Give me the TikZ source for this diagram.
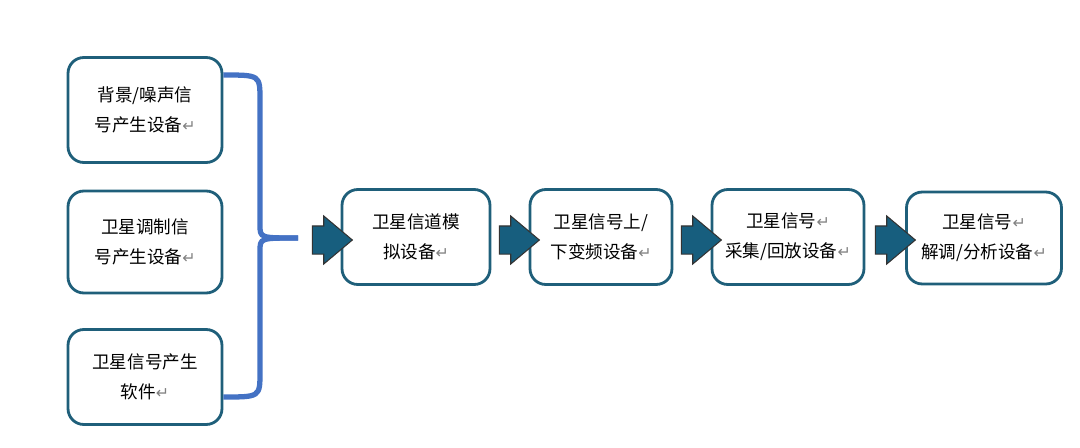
\documentclass[tikz,border=0pt]{standalone}
\usepackage{fontspec}
\setmainfont{Noto Sans CJK SC}
\newfontfamily\symfont{DejaVu Sans}
\usetikzlibrary{shapes.arrows}
\definecolor{boxline}{HTML}{1F5F7A}
\definecolor{arrowfill}{HTML}{175E7E}
\definecolor{bracecol}{HTML}{4472C4}
\newcommand{\ret}{{\symfont\color{gray}\small ↵}}
\tikzset{
% device boxes and block arrows
device box/.style={draw=boxline,line width=1.6pt,rounded corners=9pt,align=center,font=\fontsize{10}{17}\selectfont,inner sep=0pt},
block arrow/.style={single arrow,draw=black!80,fill=arrowfill,line width=0.6pt,minimum height=0.8cm,inner xsep=0pt,inner ysep=0.27cm,single arrow head extend=0.2cm,single arrow tip angle=80}
}
\begin{document}
\begin{tikzpicture}[x=0.02cm,y=-0.02cm]
        \useasboundingbox (0,0) rectangle (1080,447);
        % source boxes
        \node(noise)[device box,minimum width=3.08cm,minimum height=2.1cm] at (145,110) {背景/噪声信\\号产生设备\ret};
        \node(mod)[device box,minimum width=3.08cm,minimum height=2.04cm] at (145,242) {卫星调制信\\号产生设备\ret};
        \node(soft)[device box,minimum width=3.08cm,minimum height=1.9cm] at (145,377) {卫星信号产生\\软件\ret};
        % chain
        \node(chan)[device box,minimum width=2.96cm,minimum height=1.9cm] at (416,237) {卫星信道模\\拟设备\ret};
        \node(conv)[device box,minimum width=2.84cm,minimum height=1.9cm] at (601,237) {卫星信号上/\\下变频设备\ret};
        \node(rec)[device box,minimum width=3.04cm,minimum height=1.9cm] at (788,237) {卫星信号\ret\\采集/回放设备\ret};
        \node(dem)[device box,minimum width=3.1cm,minimum height=1.84cm] at (984,238) {卫星信号\ret\\解调/分析设备\ret};
        % brace
        \coordinate (tip) at (298,238);
        \draw[bracecol,line width=3pt] (noise.east|-0,75) .. controls (260,75) .. (260,100) -- (260,225) .. controls (260,238) .. (tip);
        \draw[bracecol,line width=3pt] (soft.east|-0,397) .. controls (260,397) .. (260,372) -- (260,251) .. controls (260,238) .. (tip);
        % arrows
        \node(a1)[block arrow] at (324,240) {};
        \node(a2)[block arrow] at (511,240) {};
        \node(a3)[block arrow] at (693,240) {};
        \node(a4)[block arrow] at (887,240) {};
\end{tikzpicture}
\end{document}
